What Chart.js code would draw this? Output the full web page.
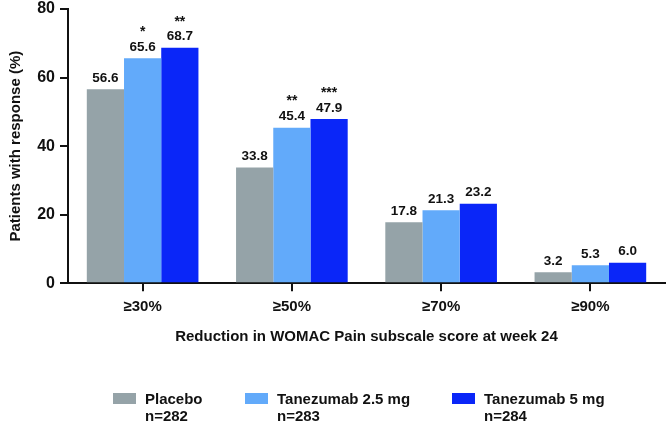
<!DOCTYPE html>
<html>
<head>
<meta charset="utf-8">
<script src="https://cdn.jsdelivr.net/npm/chart.js@4.4.1/dist/chart.umd.min.js"></script>
<style>
html,body{margin:0;padding:0;background:#fff;}
#wrap{width:670px;height:428px;position:relative;}
</style>
</head>
<body>
<div id="wrap"><canvas id="c"></canvas></div>
<script>
const categories = ['≥30%', '≥50%', '≥70%', '≥90%'];
const placebo = [56.6, 33.8, 17.8, 3.2];
const tanezumab25 = [65.6, 45.4, 21.3, 5.3];
const tanezumab5 = [68.7, 47.9, 23.2, 6.0];
const stars25 = ['*', '**', '', ''];
const stars5 = ['**', '***', '', ''];
const seriesNames = ['Placebo', 'Tanezumab 2.5 mg', 'Tanezumab 5 mg'];
const seriesN = ['n=282', 'n=283', 'n=284'];
const yTicks = [0, 20, 40, 60, 80];
const colors = ['#95a3a8', '#62aafa', '#0a26f8'];

const FONT = "'Liberation Sans', Arial, sans-serif";

const valueLabels = {
  id: 'valueLabels',
  afterDatasetsDraw(chart) {
    const ctx = chart.ctx;
    ctx.save();
    ctx.fillStyle = '#111';
    ctx.textAlign = 'center';
    ctx.textBaseline = 'middle';
    chart.data.datasets.forEach((ds, di) => {
      const meta = chart.getDatasetMeta(di);
      meta.data.forEach((bar, i) => {
        ctx.font = 'bold 13.5px ' + FONT;
        ctx.fillText(ds.data[i].toFixed(1), bar.x, bar.y - 11);
        const s = ds.stars ? ds.stars[i] : '';
        if (s) {
          ctx.font = 'bold 14px ' + FONT;
          ctx.fillText(s, bar.x, bar.y - 26);
        }
      });
    });
    ctx.restore();
  }
};

const customLegend = {
  id: 'customLegend',
  afterDraw(chart) {
    const ctx = chart.ctx;
    const boxX = [113, 245, 452];
    ctx.save();
    ctx.font = 'bold 15px ' + FONT;
    ctx.textAlign = 'left';
    ctx.textBaseline = 'middle';
    chart.data.datasets.forEach((ds, di) => {
      ctx.fillStyle = ds.backgroundColor;
      ctx.fillRect(boxX[di], 393, 23, 11);
      ctx.fillStyle = '#111';
      ctx.fillText(seriesNames[di], boxX[di] + 32, 400);
      ctx.fillText(seriesN[di], boxX[di] + 32, 417);
    });
    ctx.restore();
  }
};

new Chart(document.getElementById('c'), {
  type: 'bar',
  data: {
    labels: categories,
    datasets: [
      { label: seriesNames[0], data: placebo, backgroundColor: colors[0], stars: null },
      { label: seriesNames[1], data: tanezumab25, backgroundColor: colors[1], stars: stars25 },
      { label: seriesNames[2], data: tanezumab5, backgroundColor: colors[2], stars: stars5 }
    ]
  },
  options: {
    responsive: true,
    maintainAspectRatio: false,
    animation: false,
    layout: { padding: { left: 0, right: 5, top: 9, bottom: 78 } },
    datasets: { bar: { barPercentage: 1.0, categoryPercentage: 0.748, borderWidth: 0 } },
    plugins: { legend: { display: false }, tooltip: { enabled: false } },
    scales: {
      x: {
        grid: { offset: false, drawOnChartArea: false, drawTicks: true, tickLength: 8, color: '#111', lineWidth: 2 },
        border: { color: '#111', width: 2 },
        ticks: { color: '#111', font: { family: FONT, size: 15, weight: 'bold' }, padding: 7 },
        title: { display: true, text: 'Reduction in WOMAC Pain subscale score at week 24', color: '#111',
                 font: { family: FONT, size: 15, weight: 'bold' }, padding: { top: 0, bottom: 4 } },
        afterFit(scale) { scale.height = 428 - 78 - 283.3; }
      },
      y: {
        min: 0, max: 80,
        afterBuildTicks(scale) { scale.ticks = yTicks.map(v => ({ value: v })); },
        grid: { drawOnChartArea: false, drawTicks: true, tickLength: 8, color: '#111', lineWidth: 2 },
        border: { color: '#111', width: 2 },
        ticks: { color: '#111', font: { family: FONT, size: 16, weight: 'bold' }, padding: 5 },
        title: { display: true, text: 'Patients with response (%)', color: '#111',
                 font: { family: FONT, size: 15, weight: 'bold' }, padding: { top: 7, bottom: 0 } },
        afterFit(scale) { scale.width = 68; scale.paddingTop = 0; scale.paddingBottom = 0; }
      }
    }
  },
  plugins: [valueLabels, customLegend]
});
</script>
</body>
</html>
